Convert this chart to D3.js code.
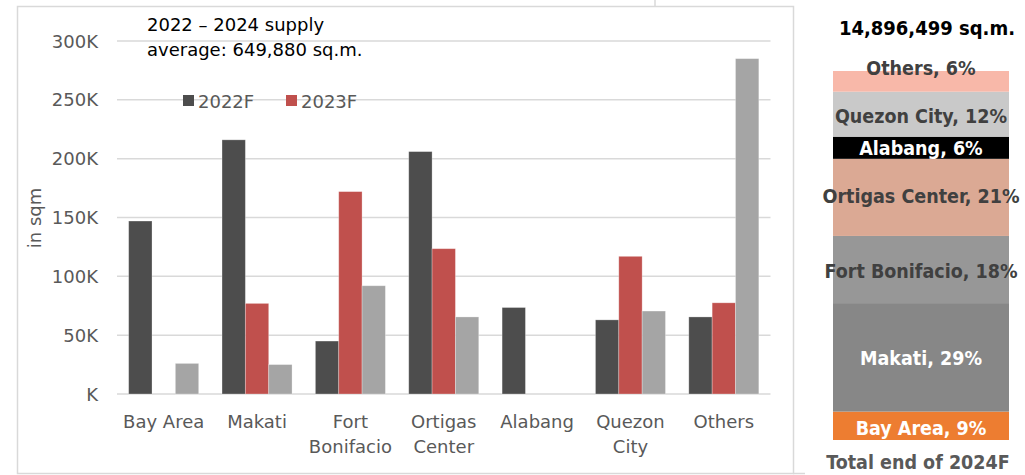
<html>
<head>
<script src="https://cdnjs.cloudflare.com/ajax/libs/d3/7.8.5/d3.min.js"></script>
<style>
  body { margin: 0; background: #fff; }
  text { font-family: "DejaVu Sans", sans-serif; }
</style>
</head>
<body>
<svg id="chart" width="1025" height="475"></svg>
<script>
	// categories and series (in K sq.m.)
	var categories = ["Bay Area", "Makati", "Fort\nBonifacio", "Ortigas\nCenter", "Alabang", "Quezon\nCity", "Others"]
	var series = ["2022F", "2023F", "2024F"]
	var supply2022 = [147, 216, 45, 206, 73.5, 63, 65.5]
	var supply2023 = [0, 77, 172, 123.5, 0, 117, 77.5]
	var supply2024 = [26, 25, 92, 65.5, 0, 70.5, 285]
	var yTicks = [0, 50, 100, 150, 200, 250, 300]

	// stacked bar on the right: share of total stock end of 2024F (bottom to top)
	var stockAreas = ["Bay Area", "Makati", "Fort Bonifacio", "Ortigas Center", "Alabang", "Quezon City", "Others"]
	var stockShares = [7.7, 29.4, 18.2, 20.9, 6.0, 12.2, 5.6]
	var stockLabels = ["9%", "29%", "18%", "21%", "6%", "12%", "6%"]

	var colors = ["#4d4d4d", "#c0504d", "#a5a5a5"]
	var stockColors = ["#ed7d31", "#878787", "#979797", "#dba994", "#000000", "#c9c9c9", "#f8b8a9"]
	var stockText = ["#fff", "#fff", "#404040", "#404040", "#fff", "#404040", "#404040"]

	var svg = d3.select("#chart")

	// frame of the column chart
	svg.append("rect")
	   .attr("x", 17.5).attr("y", 6.5)
	   .attr("width", 776).attr("height", 467)
	   .attr("fill", "none").attr("stroke", "#d9d9d9").attr("stroke-width", 1.5)
	svg.append("line").attr("x1", 655).attr("x2", 655).attr("y1", 0).attr("y2", 6)
	   .attr("stroke", "#d9d9d9").attr("stroke-width", 1.5)
	svg.append("line").attr("x1", 793).attr("x2", 805).attr("y1", 473.5).attr("y2", 473.5)
	   .attr("stroke", "#d9d9d9").attr("stroke-width", 1.5)

	var x = d3.scaleBand().domain(categories).range([117, 770.5])
	          .paddingInner(0.25).paddingOuter(0.125)
	var xs = d3.scaleBand().domain(series).range([0, x.bandwidth()])
	var y = d3.scaleLinear().domain([0, 300]).range([394, 41])

	// gridlines
	svg.append("g").selectAll("line").data(yTicks).enter().append("line")
	   .attr("x1", 117).attr("x2", 770.5)
	   .attr("y1", d => y(d)).attr("y2", d => y(d))
	   .attr("stroke", "#d9d9d9").attr("stroke-width", 1.5)

	// y tick labels ("K" for zero, like the original)
	svg.append("g").selectAll("text").data(yTicks).enter().append("text")
	   .attr("x", 98).attr("y", d => y(d) + 6.5)
	   .attr("text-anchor", "end").attr("font-size", 18).attr("fill", "#595959")
	   .text(d => (d === 0 ? "" : d) + "K")

	svg.append("text")
	   .attr("transform", "translate(41,218) rotate(-90)")
	   .attr("text-anchor", "middle").attr("font-size", 18).attr("fill", "#595959")
	   .text("in sqm")

	// bars
	var table = categories.map((c, i) => ({ cat: c, vals: [supply2022[i], supply2023[i], supply2024[i]] }))
	var groups = svg.append("g").selectAll("g").data(table).enter().append("g")
	   .attr("transform", d => "translate(" + x(d.cat) + ",0)")
	groups.selectAll("rect").data(d => d.vals.map((v, k) => ({ s: series[k], v: v, k: k })))
	   .enter().filter(d => d.v > 0).append("rect")
	   .attr("x", d => xs(d.s)).attr("width", xs.bandwidth())
	   .attr("y", d => y(d.v)).attr("height", d => y(0) - y(d.v))
	   .attr("fill", d => colors[d.k])
	   .attr("stroke", "#fff").attr("stroke-opacity", 0.35).attr("stroke-width", 0.8)

	// x labels
	var xl = svg.append("g").selectAll("text").data(categories).enter().append("text")
	   .attr("x", d => x(d) + x.bandwidth() / 2).attr("y", 428)
	   .attr("text-anchor", "middle").attr("font-size", 18).attr("fill", "#595959")
	xl.selectAll("tspan").data(d => d.split("\n")).enter().append("tspan")
	   .attr("x", function() { return this.parentNode.getAttribute("x") })
	   .attr("dy", (d, i) => i ? 25 : 0)
	   .text(d => d)

	// legend (only two entries visible)
	var legend = svg.append("g")
	;[{ s: "2022F", x: 183 }, { s: "2023F", x: 286 }].forEach((l, i) => {
		legend.append("rect").attr("x", l.x).attr("y", 95).attr("width", 11).attr("height", 11)
		      .attr("fill", colors[i])
		legend.append("text").attr("x", l.x + 15).attr("y", 108)
		      .attr("font-size", 18).attr("fill", "#595959").text(l.s)
	})

	// annotation
	svg.append("text").attr("x", 147).attr("y", 31).attr("font-size", 18).attr("fill", "#000")
	   .text("2022 \u2013 2024 supply")
	svg.append("text").attr("x", 147).attr("y", 56).attr("font-size", 18).attr("fill", "#000")
	   .text("average: 649,880 sq.m.")

	// stacked total bar
	var total = d3.sum(stockShares)
	var ys = d3.scaleLinear().domain([0, total]).range([440, 71])
	var cum = 0
	var stack = stockShares.map((v, i) => { var o = { i: i, y0: cum, y1: cum + v }; cum += v; return o })
	var condensed = "'DejaVu Sans Condensed', 'DejaVu Sans', sans-serif"
	var sg = svg.append("g")
	sg.selectAll("rect").data(stack).enter().append("rect")
	  .attr("x", 833).attr("width", 176)
	  .attr("y", d => ys(d.y1)).attr("height", d => ys(d.y0) - ys(d.y1))
	  .attr("fill", d => stockColors[d.i])
	var labelY = [435, 365, 278, 203, 155, 123, 75]
	sg.selectAll("text").data(stack).enter().append("text")
	  .attr("x", 921).attr("y", (d, i) => labelY[i])
	  .attr("text-anchor", "middle")
	  .style("font-family", condensed)
	  .attr("font-size", 19.5).attr("font-weight", "bold")
	  .attr("fill", d => stockText[d.i])
	  .text(d => stockAreas[d.i] + ", " + stockLabels[d.i])

	svg.append("text").attr("x", 927).attr("y", 35).attr("text-anchor", "middle")
	   .style("font-family", condensed)
	   .attr("font-size", 20).attr("font-weight", "bold").attr("fill", "#000")
	   .text("14,896,499 sq.m.")
	svg.append("text").attr("x", 918).attr("y", 469).attr("text-anchor", "middle")
	   .style("font-family", condensed)
	   .attr("font-size", 19.5).attr("font-weight", "bold").attr("fill", "#595959")
	   .text("Total end of 2024F")
</script>
</body>
</html>
